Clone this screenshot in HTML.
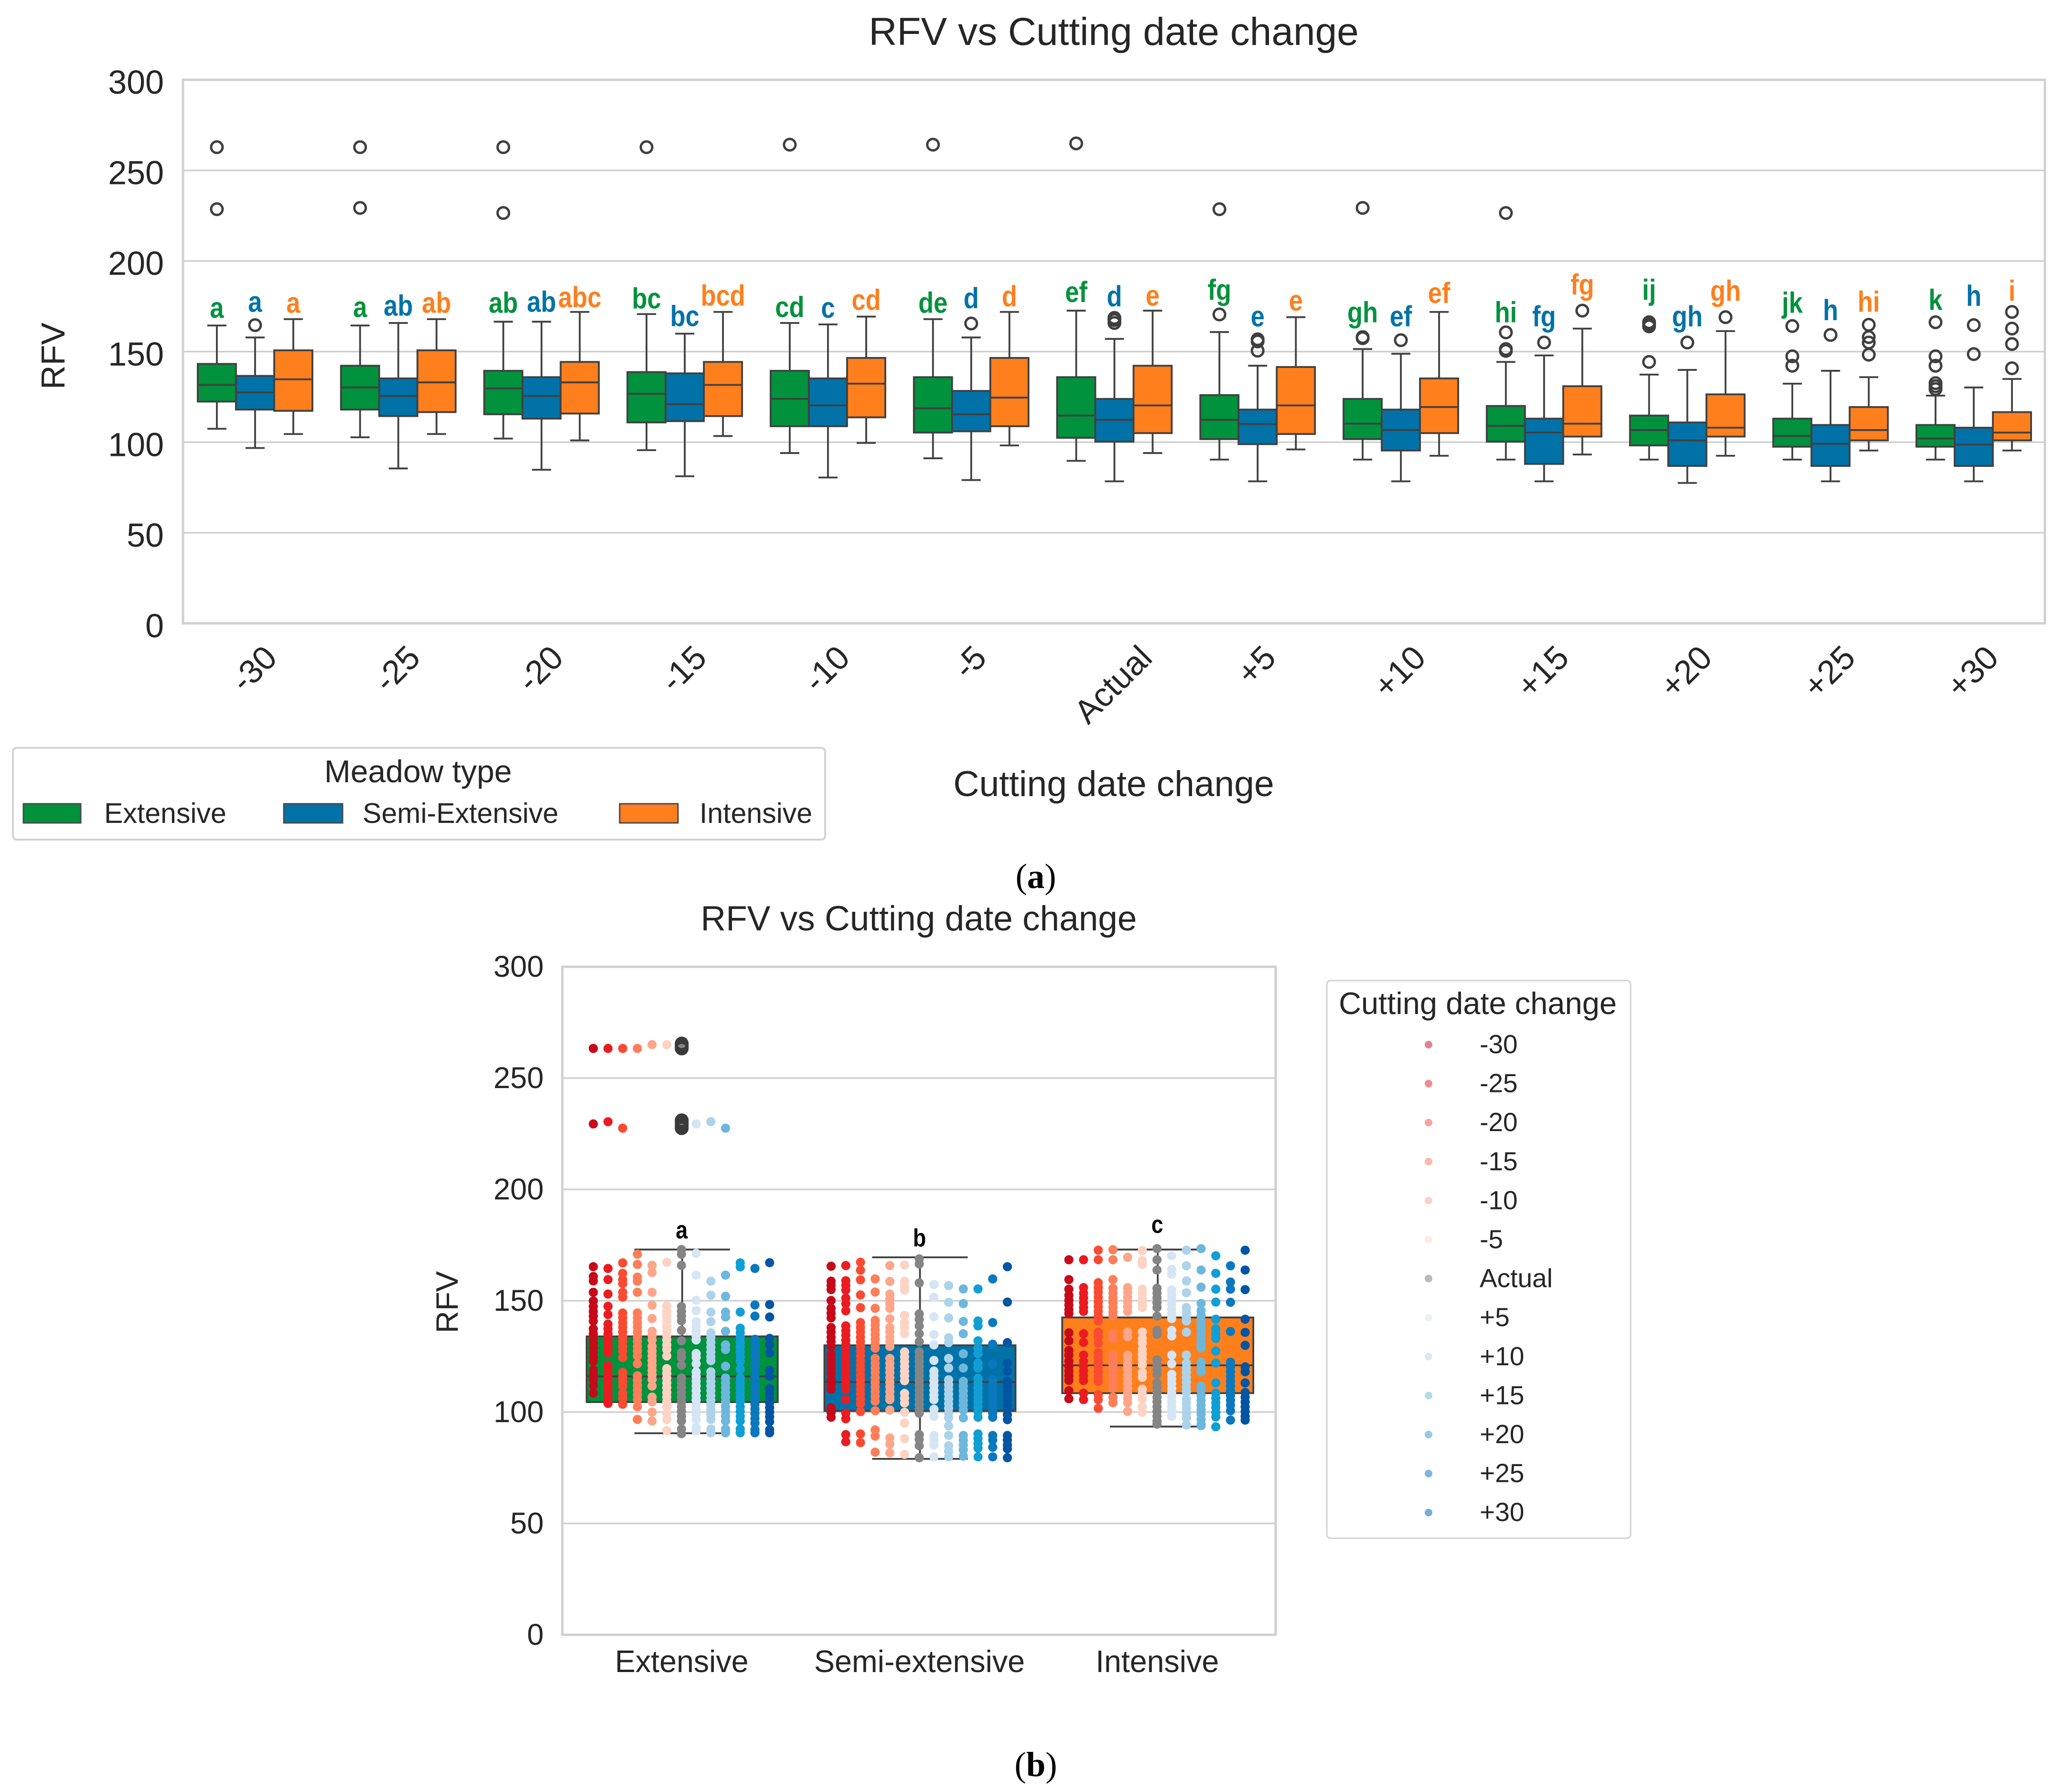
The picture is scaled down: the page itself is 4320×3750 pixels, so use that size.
<!DOCTYPE html>
<html lang="en">
<head>
<meta charset="utf-8">
<title>RFV vs Cutting date change</title>
<style>
html,body{margin:0;padding:0;background:#fff;}
svg{display:block;}
text{font-family:"Liberation Sans",sans-serif;fill:#262626;}
.serif{font-family:"Liberation Serif",serif;fill:#000;}
</style>
</head>
<body>
<svg id="fig" xmlns="http://www.w3.org/2000/svg" width="4320" height="3750" viewBox="0 0 4320 3750">
  <rect x="0" y="0" width="4320" height="3750" fill="#fff"/>
  <g id="top"></g>
  <g id="bottom"></g>

  <text x="2331" y="94" font-size="82" text-anchor="middle">RFV vs Cutting date change</text>
  <text transform="translate(135,745) rotate(-90)" font-size="70" text-anchor="middle">RFV</text>
  <text x="2331" y="1666" font-size="75" text-anchor="middle">Cutting date change</text>

  <g>
    <rect x="27" y="1565" width="1700" height="192" rx="8" fill="#fff" stroke="#d2d2d2" stroke-width="4"/>
    <text x="875" y="1637" font-size="66" text-anchor="middle">Meadow type</text>
    <rect x="49" y="1682" width="120" height="40" fill="#00923c" stroke="#4a4a4a" stroke-width="3"/>
    <text x="218" y="1722" font-size="59">Extensive</text>
    <rect x="594" y="1682" width="123" height="40" fill="#0072a8" stroke="#4a4a4a" stroke-width="3"/>
    <text x="759" y="1722" font-size="59">Semi-Extensive</text>
    <rect x="1297" y="1682" width="122" height="40" fill="#fe7f1c" stroke="#4a4a4a" stroke-width="3"/>
    <text x="1464" y="1722" font-size="59">Intensive</text>
  </g>

  <text class="serif" x="2168" y="1858" font-size="73" text-anchor="middle">(<tspan font-weight="bold" class="serif">a</tspan>)</text>

  <text x="1923" y="1947" font-size="73" text-anchor="middle">RFV vs Cutting date change</text>
  <text transform="translate(958,2725) rotate(-90)" font-size="65" text-anchor="middle">RFV</text>

  <g id="dateLegend">
    <rect x="2777" y="2052" width="636" height="1167" rx="8" fill="#fff" stroke="#d2d2d2" stroke-width="3"/>
    <text x="3093" y="2122" font-size="65" text-anchor="middle">Cutting date change</text>
  </g>

  <text class="serif" x="2168" y="3717" font-size="73" text-anchor="middle">(<tspan font-weight="bold" class="serif">b</tspan>)</text>
</svg>

<script>
// ---------- Panel (a) data ----------
const dateLabels = ['-30','-25','-20','-15','-10','-5','Actual','+5','+10','+15','+20','+25','+30'];
const yTicks = [0,50,100,150,200,250,300];

const q1Ext  = [122.4,118,115.4,110.9,108.8,105.3,102.4,101.7,101.7,100.3,98.2,97.5,97.5];
const medExt = [131.6,130.2,129.7,126.7,123.9,118.7,114.7,112.3,110.2,109,106.7,103.4,102];
const q3Ext  = [143.2,142.2,139.4,138.7,139.4,135.9,135.9,126,123.9,120,114.7,113,109.5];
const loExt  = [107.4,102.7,102,95.6,94,91.1,89.7,90.4,90.4,90.4,90.4,90.4,90.4];
const hiExt  = [164.4,164.4,166.5,170.7,165.8,167.9,172.6,160.8,151.4,144.3,137.3,132.3,125.7];
const flierExt = [[262.8,228.6],[262.8,229.3],[262.8,226.5],[262.8],[264.2],[264.2],[264.9],[228.6,170.5],[229.3,158,157.4],[226.5,160.6,151.4,150.4],[166.2,165,163.9,144.3],[164.1,147.4,142.2],[166.2,147.4,142.2,132.6,130.9,129.3]];

const q1Semi  = [118,114.4,113,111.6,108.8,106,100.3,98.9,95.4,88,86.9,86.9,86.9];
const medSemi = [127.4,125.5,125.5,121,120.3,115.4,112.3,110,106.7,105.3,101,99.1,98.7];
const q3Semi  = [136.6,135.2,135.9,138,135.2,128.3,123.9,118,118,113,110.9,109.5,108];
const loSemi  = [96.8,85.5,84.8,81.2,80.5,79.1,78.4,78.4,78.4,78.4,77.5,78.4,78.4];
const hiSemi  = [157.8,165.8,166.5,159.9,165,157.8,157,142.2,148.8,147.9,139.9,139.4,130.2];
const flierSemi = [[164.6],[],[],[],[],[165.5],[168.6,167.4,165.8],[156.8,155.6,150.5],[156.3],[155],[155],[159.2],[164.6,148.6]];

const q1Int  = [117.3,116.6,115.8,114.4,113.7,108.8,105,104.5,105,103.1,103.1,101,101];
const medInt = [134.7,133,133,131.6,132.3,124.6,120.3,120.3,119.4,110.2,108,106.7,105.3];
const q3Int  = [150.7,150.7,144.3,144.3,146.5,146.5,142.2,141.5,135.2,130.9,126.4,119.4,116.6];
const loInt  = [104.5,104.5,101,103.4,99.6,98.2,94,96,92.5,93.2,92.5,95.4,95.4];
const hiInt  = [167.9,167.9,171.9,171.9,169.3,171.9,172.6,169,171.9,162.7,161.3,135.9,134.9];
const flierInt = [[],[],[],[],[],[],[],[],[],[172.6],[169],[164.8,158,155,148.3],[171.9,162.7,154.2,140.8]];

const sigExt  = ['a','a','ab','bc','cd','de','ef','fg','gh','hi','ij','jk','k'];
const sigSemi = ['a','ab','ab','bc','c','d','d','e','ef','fg','gh','h','h'];
const sigInt  = ['a','ab','abc','bcd','cd','d','e','e','ef','fg','gh','hi','i'];
const sigExtAt  = [168.6,169,171.4,173.8,169,171.4,177.3,178.5,166.2,166.2,178.5,171.4,173];
const sigSemiAt = [172,169.8,172,164.1,168.6,174,175,163.9,163.9,163.9,163.9,167.4,175.2];
const sigIntAt  = [171.4,171.4,174.5,175.4,173,175,175.4,172.6,176.8,181.5,178,172,178];

// ---------- Panel (b) data ----------
const meadowLabels = ['Extensive','Semi-extensive','Intensive'];
const boxQ1  = [104.5,100.5,108.5];
const boxMed = [116,113.5,121];
const boxQ3  = [134,130,142.5];
const boxLo  = [90.5,79,93.5];
const boxHi  = [173,169.5,173];
const boxSig = ['a','b','c'];
const boxSigAt = [178,174.5,180.5];
const extensiveFliers = [263.3,263.8,264.4,265,265.5,227.5,228.4,229.4,230.4,231];

const stripExtensive = [
 [263.3,229.4,165.3,160.9,158.9,153.8,149.9,147.4,145.2,143.1,140.9,137.4,135.2,133.1,131,128.8,126.7,124.5,122.8,118.8,116.7,114.6,112,108.5],
 [263.3,230.4,164.5,159.5,153,147.5,143.8,139.5,137.4,135.2,133.1,131,128.8,126.7,121,118.8,116.7,114.6,112.4,110.3,108.1,106,103.9],
 [263.3,227.5,167,162.3,159.5,157.7,153.8,151.6,144.5,142.4,140.2,138.1,136,133.8,131.7,129.5,127.4,124.5,117.8,115.6,113.5,111.7,108.5,106.3,103.5],
 [263.3,170.9,166.3,160.6,158.8,153.8,144.5,142.4,140.2,138.1,136,133.8,131.7,129.5,127.4,125.2,121.7,116.3,114.2,112,109.9,107.8,105.6,102.4,96.7],
 [265,165.9,162.7,153.8,148,142,136.3,134.5,132.4,129.5,127.4,125.2,123.1,121,118.8,116.7,114.6,111.7,106.7,104.6,100,96],
 [265,167.3,147.7,145.2,143.1,141,138.8,136.7,134.5,132.4,130.2,128.1,125.2,119.5,117.4,115.3,113.1,111,108.8,106.7,104.6,102.4,99.6,96.7,91.7],
 [264.9,229,173,170.9,165.9,147.4,145.2,143.1,141,136.7,132,126.7,124.5,121,115.3,113.1,111,108.8,106.7,104.6,102.4,100.3,98.1,96,92.4,90.3],
 [229.4,171.3,161.5,150.2,145.6,140.6,138.4,136.3,134.2,132.4,126.3,124.5,121.7,118.1,116,113.8,111.7,109.6,107.4,105.3,103.1,101,98.9,96.7,93.2,91.4],
 [230.4,158.8,152.5,144.9,140.6,135.6,133.5,131.3,129.2,127,124.9,123.1,118.1,116,113.8,111.7,109.6,107.4,105.3,103.1,101,98.9,96.7,92.4,90.7],
 [227.5,161.5,152,144.9,142.7,136.3,130.2,128.1,120.6,115.3,113.1,111,108.8,106.7,104.6,102.4,100.3,98.1,96,92.4,90.7],
 [167,165.2,144.9,137.7,135.6,133.5,131.3,129.2,127,124.9,122.8,119.2,115.3,113.1,111,108.8,106.7,104.6,102.4,100.3,98.1,96,92.4,90.7],
 [164.5,148.1,143.1,132.7,130.6,128.5,126.3,124.2,121.7,119.5,116.3,114.2,112,109.9,107.8,105.6,103.5,101.4,99.3,97.1,95,92.1,90.7],
 [167.1,148.3,142.7,133.1,130.2,126.5,118.8,116,110.6,108.5,106.3,104.2,102,100,97.9,95.7,92.1,90.7]
];
const stripSemi = [
 [165.5,158.8,156.9,155,150.1,146.6,144.4,142.3,138,135.9,133.7,131.6,129.5,125.9,123.8,121.6,119.5,117.3,114.5,112.3,110.2,102,99.9,97.7],
 [165.8,159,156.9,154.8,151.2,148.7,145.5,138.7,136.6,134.5,132.3,130.2,127.3,125.2,123,120.9,118.8,116.6,114.5,112.3,110.2,105.6,99.5,97,89.9,86.7],
 [167.3,163.7,159.4,152.6,146.9,140.2,138,135.9,133.7,131.6,129.5,127.3,125.2,123,120.9,118.8,116.6,114.5,112.3,110.2,108.1,105.9,103.8,100.2,90.2,86.3],
 [159.8,153.9,146.6,141.2,139.1,136.9,134.8,132.7,130.5,128.7,124.1,122,119.8,117.7,115.5,113.4,111.3,109.1,107,104.9,100.6,92,89.2,82],
 [165.8,158.7,153,150.9,148.7,146.6,141.9,138,135.9,133.7,131.6,129.5,124.1,122,119.8,117.7,115.5,113.4,111.3,109.1,107,105.6,100.9,88.4,85.6,81.7],
 [166,158.7,156.6,154.8,143.4,140.2,138,135.2,127,124.8,122.7,120.5,118.4,116.3,114.1,108.4,106.3,104.1,99.9,95.1,88.1,81],
 [168.8,166.5,158,144.1,141.6,138.7,135.2,131.6,127,124.8,122.7,120.5,118.4,116.3,114.1,112,109.9,107.7,105.6,103.4,101.3,99.5,89.9,87.7,84.9,79.5],
 [157.3,151.6,142.8,134.8,130.2,123.2,118.4,116.3,114.1,112,109.8,107.7,105.6,101.3,98.1,89.5,87.4,85.2,79.9],
 [156.8,149.3,142.3,133.4,131.2,124.1,119.8,114.5,112.3,110.2,108.1,105.9,103.8,101.7,99.5,97.4,93.8,89.5,84.9,82.4,79.9],
 [155.3,148.7,140.7,135.2,126.2,119.8,113.8,111.6,109.5,107.3,105.2,103.1,100.9,97.4,89.5,87.4,85.2,83.1,80.2],
 [155.3,140.9,138.7,132,128.7,126.2,122,119.8,115.2,113.1,110.9,108.8,106.6,104.5,102.4,100.2,97.7,90.2,88.1,85.9,83.8,79.9],
 [159.8,140.2,130.5,121.6,114.5,112.3,110.2,108.1,105.9,103.8,101.7,99.5,97.7,89.5,87.4,84.2,79.9],
 [165.3,149.4,131.2,122,118.4,113.8,111.6,109.5,107.3,105.2,103.1,100.9,98.8,96.6,89.5,87.4,85.2,83.5,79.5]
];
const stripIntensive = [
 [168.4,159.5,155.2,152.4,150.2,148.1,145.9,144.2,135.6,132,127.7,125.6,122.8,120.6,118.5,116.3,114.2,109.6,106],
 [168.4,155.9,153.4,151.3,149.1,147,145.2,135.2,131.3,125.6,122.8,120.6,118.5,116.3,114.2,108.5,105.6],
 [172.7,168.4,158.1,155.9,153.8,151.6,149.5,147.4,145.2,143.1,140.9,135.9,133.8,131,126.7,124.5,122.4,120.3,118.1,116,113.8,107.8,105.6,101.7],
 [172.9,168.4,159.5,155.6,153.4,151.3,149.1,147,144.9,143.1,135.2,133.1,125.6,123.5,121.3,119.2,117,114.9,112.8,110.6,106.7,104.2],
 [169.5,155.9,153.8,151.6,149.5,147.4,145.2,135.9,133.8,125.6,123.5,121.3,119.2,117,114.9,112.8,110.6,108.5,106.3,104.2,100.3],
 [172.5,168,166.3,155.2,153.1,150.9,148.8,147,136,133.1,131,128.1,126,123.8,121.3,117.8,115.6,110.3,108.1,106,102.4,99.9],
 [173.4,168.4,163.8,155.6,153.4,151.3,149.1,147,143.1,136.7,134.9,123.5,121.3,119.2,117,113.1,111,108.8,106.7,104.6,102.4,100.3,98.1,96,94.6],
 [170.2,164.1,161.9,154.9,152.7,150.6,148.4,146.3,144.2,142,136.7,134.2,125.6,121.7,117,114.9,112.8,110.6,108.5,106.7,104.6,102.4,100.3,98.1],
 [172.7,165.7,158.9,153.6,147,144.9,142.7,140.9,135.9,125.6,122,119.9,117.8,115.6,113.5,111.3,109.2,106,103.9,101.7,99.6,97.4,94.2],
 [173.4,163.8,156.1,148.8,145.6,143.4,141.3,139.2,137.7,134.9,132.7,130.6,128.8,122.4,120.3,118.1,111.7,109.6,107.4,105.3,103.1,101,98.9,96.7,94.6,93.9],
 [170.2,162.3,155.2,149.4,141.7,137.4,135.2,133.1,127.4,122,113.1,108.5,106.3,104.2,102.1,99.9,97.8,93.4],
 [165.7,158.4,155.2,149.3,136.2,122.4,120.3,118.1,116,113.8,111.7,109.6,107.4,105.3,103.1,100.6,96.4],
 [172.7,163.8,155,141.7,135.8,130,120.3,118.1,113.1,108.8,106.7,104.6,102.4,100.3,98.1,96.4]
];

const stripColors = ['#c60a19','#ea1c22','#fb4a32','#fd7e58','#fda68a','#fdd3c3','#858585','#d5e5f3','#acd3ea','#6db7dc','#109fd5','#0a78bf','#0255a3'];
const legendColors = ['#e2828c','#f28a90','#fca39c','#fdb9ad','#fed0c8','#feeae5','#bababa','#e9f1f8','#dde8f0','#b2dce9','#98cbe5','#7fb6dc','#7aaad4'];

// ---------- Drawing ----------
const NS = 'http://www.w3.org/2000/svg';
const GREEN = '#00923c', BLUE = '#0072a8', ORANGE = '#fe7f1c';
const LINE = '#404040', GRID = '#d0d0d0';

function make(tag, attrs, parent) {
  const el = document.createElementNS(NS, tag);
  for (const k in attrs) el.setAttribute(k, attrs[k]);
  parent.appendChild(el);
  return el;
}

function drawBox(parent, cx, width, capWidth, yScale, q1, med, q3, lo, hi, color, sw) {
  const whiskLo = make('line', {x1:cx, x2:cx, y1:yScale(q1), y2:yScale(lo), stroke:LINE, 'stroke-width':sw}, parent);
  
  
  const whiskHi = make('line', {x1:cx, x2:cx, y1:yScale(q3), y2:yScale(hi), stroke:LINE, 'stroke-width':sw}, parent);
  
  
  const capLo = make('line', {x1:cx-capWidth/2, x2:cx+capWidth/2, y1:yScale(lo), y2:yScale(lo), stroke:LINE, 'stroke-width':sw}, parent);
  
  
  const capHi = make('line', {x1:cx-capWidth/2, x2:cx+capWidth/2, y1:yScale(hi), y2:yScale(hi), stroke:LINE, 'stroke-width':sw}, parent);
  
  
  const body = make('rect', {x:cx-width/2, y:yScale(q3), width:width, height:yScale(q1)-yScale(q3), fill:color, stroke:LINE, 'stroke-width':sw}, parent);
  
  
  const median = make('line', {x1:cx-width/2, x2:cx+width/2, y1:yScale(med), y2:yScale(med), stroke:LINE, 'stroke-width':sw}, parent);
  
  
}

function drawAxesFrame(parent, left, right, top, bottom, yScale, fontSize, labelX, baseOffset, gridW, spineW) {
  yTicks.forEach(t => {
    if (t !== 0 && t !== 300) {
      const g = make('line', {x1:left, x2:right, y1:yScale(t), y2:yScale(t), stroke:GRID, 'stroke-width':gridW}, parent);
      
      
    }
    const lab = make('text', {x:labelX, y:yScale(t)+baseOffset, 'font-size':fontSize, 'text-anchor':'end'}, parent);
    lab.textContent = t;
    
    
  });
  const frame = make('rect', {x:left, y:top, width:right-left, height:bottom-top, fill:'none', stroke:GRID, 'stroke-width':spineW}, parent);
  
  
}

// Panel (a)
(function () {
  const root = document.getElementById('top');
  const left = 383, right = 4280, top = 167, bottom = 1304.5;
  const yA = v => bottom - v * (bottom - top) / 300;
  const xA = i => left + (i + 0.5) * (right - left) / dateLabels.length;
  const boxW = 80;
  drawAxesFrame(root, left, right, top, bottom, yA, 70, 343, 29, 3.5, 5);

  const seriesList = [
    {off:-boxW, color:GREEN, q1:q1Ext, med:medExt, q3:q3Ext, lo:loExt, hi:hiExt, fl:flierExt, sig:sigExt, at:sigExtAt},
    {off:0, color:BLUE, q1:q1Semi, med:medSemi, q3:q3Semi, lo:loSemi, hi:hiSemi, fl:flierSemi, sig:sigSemi, at:sigSemiAt},
    {off:boxW, color:ORANGE, q1:q1Int, med:medInt, q3:q3Int, lo:loInt, hi:hiInt, fl:flierInt, sig:sigInt, at:sigIntAt}
  ];
  dateLabels.forEach((d, i) => {
    seriesList.forEach(s => {
      const cx = xA(i) + s.off + 1;
      drawBox(root, cx, boxW, 40, yA, s.q1[i], s.med[i], s.q3[i], s.lo[i], s.hi[i], s.color, 3.8);
      s.fl[i].forEach(v => {
        const c = make('circle', {cx:cx, cy:yA(v), r:12, fill:'none', stroke:'#3f3f3f', 'stroke-width':5}, root);
        
        
      });
      const t = make('text', {'font-size':61, 'font-weight':'bold', 'text-anchor':'middle', style:'fill:' + s.color, transform:'translate(' + cx + ',' + yA(s.at[i]) + ') scale(0.86,1)'}, root);
      t.textContent = s.sig[i];
      
      
    });
    const tick = make('text', {'font-size':70, 'text-anchor':'middle', 'dominant-baseline':'central'}, root);
    tick.textContent = d;
    
    
    const len = tick.getComputedTextLength();
    const cy = 1346 + (len + 50) * Math.SQRT1_2 / 2;
    tick.setAttribute('transform', 'translate(' + (xA(i) - 2) + ',' + cy + ') rotate(-45)');
  });
})();

// Panel (b)
(function () {
  const root = document.getElementById('bottom');
  const left = 1177, right = 2670, top = 2023, bottom = 3421;
  const yB = v => bottom - v * (bottom - top) / 300;
  const xB = i => left + (i + 0.5) * (right - left) / meadowLabels.length;
  const colGap = 30.75, boxW = 400, capW = 200;
  drawAxesFrame(root, left, right, top, bottom, yB, 63, 1138, 21, 3.5, 5);

  const fills = [GREEN, BLUE, ORANGE];
  const strips = [stripExtensive, stripSemi, stripIntensive];
  meadowLabels.forEach((m, i) => {
    const cx = xB(i) + 2;
    drawBox(root, cx, boxW, capW, yB, boxQ1[i], boxMed[i], boxQ3[i], boxLo[i], boxHi[i], fills[i], 3.8);
    strips[i].forEach((col, c) => {
      const px = cx + (c - 6) * colGap - 1.5;
      col.forEach(v => {
        const dot = make('circle', {cx:px, cy:yB(v), r:9.6, fill:stripColors[c]}, root);
        
        
      });
    });
    const sig = make('text', {'font-size':52, 'font-weight':'bold', 'text-anchor':'middle', style:'fill:#000', transform:'translate(' + (cx - 1) + ',' + yB(boxSigAt[i]) + ') scale(0.86,1)'}, root);
    sig.textContent = boxSig[i];
    
    
    const lab = make('text', {x:xB(i) + 1, y:3499, 'font-size':64.5, 'text-anchor':'middle'}, root);
    lab.textContent = m;
    
    
  });
  extensiveFliers.forEach(v => {
    const ring = make('circle', {cx:xB(0) + 1, cy:yB(v), r:12, fill:'none', stroke:'#3a3a3a', 'stroke-width':5}, root);
    
    
  });

  const legendRoot = document.getElementById('dateLegend');
  dateLabels.forEach((d, i) => {
    const rowY = 2186 + i * 81.6;
    const mark = make('circle', {cx:2990, cy:rowY, r:8, fill:legendColors[i]}, legendRoot);
    
    
    const t = make('text', {x:3097, y:rowY + 18, 'font-size':55}, legendRoot);
    t.textContent = d;
    
    
  });
})();
</script>
</body>
</html>
